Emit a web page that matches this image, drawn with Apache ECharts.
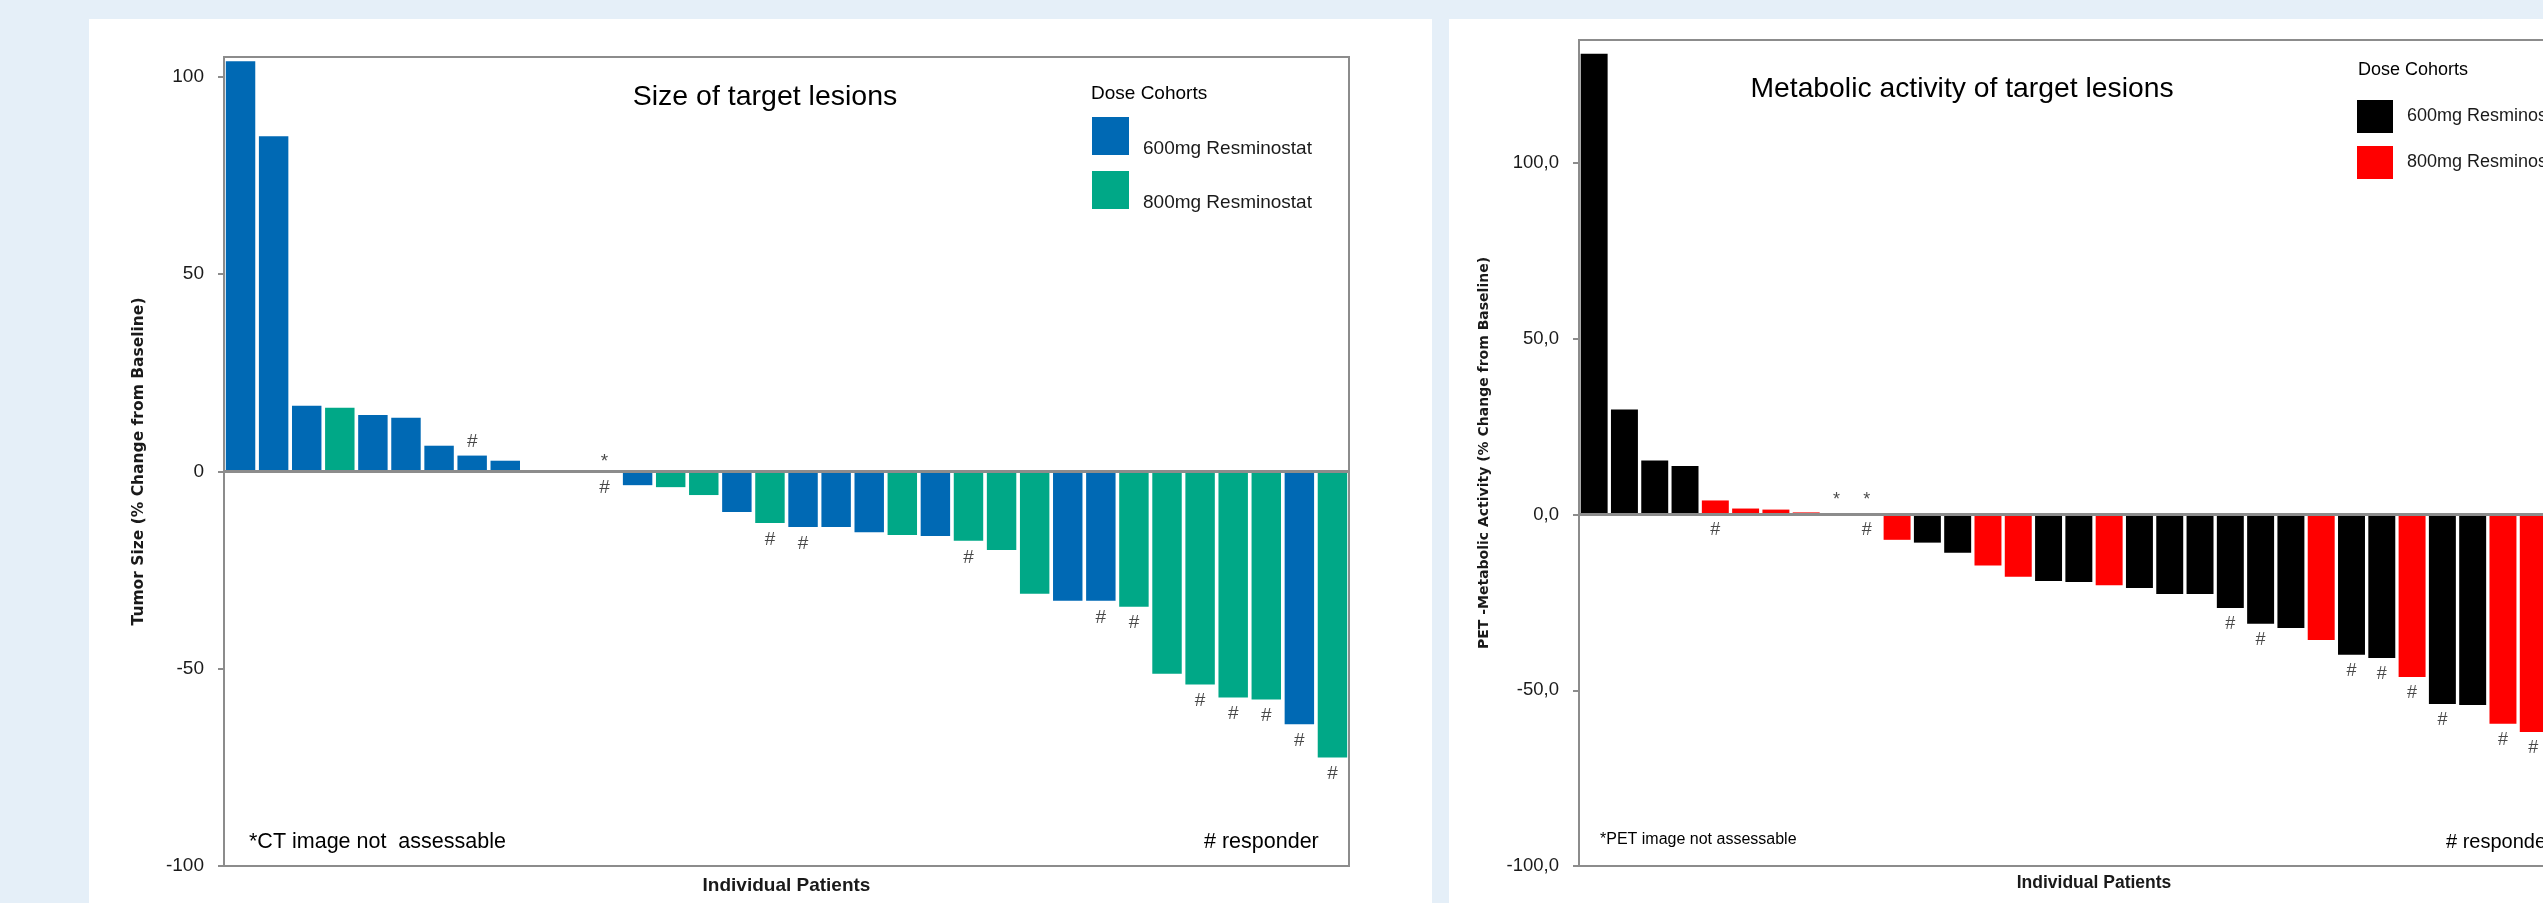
<!DOCTYPE html>
<html>
<head>
<meta charset="utf-8">
<script src="https://cdn.jsdelivr.net/npm/echarts@6/dist/echarts.min.js"></script>
<style>
  html, body { margin: 0; padding: 0; width: 2543px; height: 903px; overflow: hidden; background: #e5eff8; }
  .panel { position: absolute; top: 19px; height: 884px; background: #fff; }
  #ct { left: 89px; width: 1343px; }
  #pet { left: 1449px; width: 1094px; }
</style>
</head>
<body>
<div id="ct" class="panel"></div>
<div id="pet" class="panel"></div>
<script>
// patients, sorted by change from baseline
var patients = ['1','2','3','4','5','6','7','8','9','10','11','12','13','14','15','16','17',
                '18','19','20','21','22','23','24','25','26','27','28','29','30','31','32','33','34'];

// CT: tumor size, % change from baseline
var sizeChange = [103.9, 84.9, 16.6, 16.1, 14.3, 13.6, 6.5, 4.0, 2.7, 0, 0, null,
                  -3.5, -4.0, -6.0, -10.3, -13.1, -14.1, -14.1, -15.4, -16.1, -16.4, -17.6, -19.9,
                  -31.0, -32.8, -32.8, -34.3, -51.3, -54.0, -57.3, -57.8, -64.1, -72.5];
var sizeCohort = [600, 600, 600, 800, 600, 600, 600, 600, 600, 800, 800, null,
                  600, 800, 800, 600, 800, 600, 600, 600, 800, 600, 800, 800,
                  800, 600, 600, 800, 800, 800, 800, 800, 600, 800];
var sizeHashAbove = [7];
var sizeHashBelow = [11, 16, 17, 22, 26, 27, 29, 30, 31, 32, 33];
var sizeStar = [11];
var sizeTicks = [-100, -50, 0, 50, 100];

// PET: metabolic activity, % change from baseline (last two are off the picture)
var petChange = [131.1, 29.9, 15.4, 13.8, 4.0, 1.7, 1.4, 0.6, null, null,
                 -7.2, -8.0, -10.9, -14.5, -17.7, -18.9, -19.2, -20.1, -20.9, -22.6, -22.6,
                 -26.6, -31.1, -32.3, -35.7, -39.9, -40.8, -46.2, -53.9, -54.2, -59.5, -61.9, null, null];
var petCohort = [600, 600, 600, 600, 800, 800, 800, 800, null, null,
                 800, 600, 600, 800, 800, 600, 600, 800, 600, 600, 600,
                 600, 600, 600, 800, 600, 600, 800, 600, 600, 800, 800, null, null];
var petHashBelow = [4, 9, 21, 22, 25, 26, 27, 28, 30, 31];
var petStar = [8, 9];
var petTicks = [-100, -50, 0, 50, 100];

var FONT = 'Liberation Sans';
var INK = '#1a1a1a';
var FRAME = '#8c8c8c';

function pick(values, cohorts, dose) {
    return values.map(function (v, i) { return cohorts[i] === dose ? v : null; });
}

function barSeries(name, color, data, withZero) {
    var s = {
        name: name,
        type: 'bar',
        data: data,
        barGap: '-100%',
        barCategoryGap: '11%',
        itemStyle: { color: color },
        silent: true
    };
    if (withZero) {
        s.markLine = {
            silent: true,
            symbol: 'none',
            label: { show: false },
            lineStyle: { color: FRAME, width: 3, type: 'solid' },
            data: [{ yAxis: 0 }]
        };
    }
    return s;
}

function markSeries(idx, values, text, pos, dist, size, above) {
    return {
        type: 'scatter',
        symbolSize: 0,
        silent: true,
        z: 5,
        data: idx.map(function (i) {
            var v = values[i] || 0;
            return [i, above ? Math.max(v, 0) : Math.min(v, 0)];
        }),
        label: {
            show: true, position: pos, distance: dist, formatter: text,
            fontFamily: FONT, fontSize: size, color: INK
        }
    };
}

function txt(x, y, s, size, align) {
    var st = { text: s, fontFamily: FONT, fontSize: size, fill: '#000', align: align || 'left', verticalAlign: 'middle' };
    return { type: 'text', x: x, y: y, silent: true, style: st };
}

// ---- left: size of target lesions ----
var ctChart = echarts.init(document.getElementById('ct'));
ctChart.setOption({
    animation: false,
    backgroundColor: '#fff',
    textStyle: { fontFamily: FONT },
    grid: { left: 135, top: 38, width: 1125, height: 809, show: true, borderColor: FRAME, borderWidth: 2,
            backgroundColor: 'transparent', outerBoundsMode: 'none' },
    xAxis: {
        type: 'category', data: patients,
        axisLine: { show: false }, axisTick: { show: false }, axisLabel: { show: false },
        name: 'Individual Patients', nameLocation: 'middle', nameGap: 10,
        nameTextStyle: { fontFamily: FONT, fontWeight: 'bold', fontSize: 19, color: INK, verticalAlign: 'top' }
    },
    yAxis: {
        type: 'value', min: -100, max: 105, interval: 50,
        splitLine: { show: false },
        axisLine: { show: true, lineStyle: { color: FRAME, width: 2 } },
        axisTick: { show: true, length: 6, customValues: sizeTicks, lineStyle: { color: FRAME, width: 2 } },
        axisLabel: { customValues: sizeTicks, margin: 20, fontSize: 19, color: INK, fontFamily: FONT },
        name: 'Tumor Size (% Change from Baseline)', nameLocation: 'middle', nameRotate: 90, nameGap: 77,
        nameTextStyle: { fontFamily: 'DejaVu Sans', fontWeight: 'bold', fontSize: 15.5, color: INK }
    },
    legend: {
        orient: 'vertical', left: 1003, top: 91, padding: 0,
        itemWidth: 37, itemHeight: 38, itemGap: 2, icon: 'rect', selectedMode: false,
        data: ['600mg Resminostat', '800mg Resminostat'],
        // label sits a little below the swatch centre
        formatter: function (n) { return '\n' + n; },
        textStyle: { fontFamily: FONT, fontSize: 19, lineHeight: 26, color: INK, padding: [0, 0, 0, 9] }
    },
    graphic: [
        txt(676, 78.5, 'Size of target lesions', 28.5, 'center'),
        txt(1002, 74.3, 'Dose Cohorts', 19, 'left'),
        txt(160, 823, '*CT image not  assessable', 21.5, 'left'),
        txt(1115, 823, '# responder', 21.5, 'left')
    ],
    series: [
        barSeries('600mg Resminostat', '#0069b4', pick(sizeChange, sizeCohort, 600), true),
        barSeries('800mg Resminostat', '#00a887', pick(sizeChange, sizeCohort, 800), false),
        markSeries(sizeHashAbove, sizeChange, '#', 'top', 4, 19, true),
        markSeries(sizeStar, sizeChange, '*', 'top', 0, 19, true),
        markSeries(sizeHashBelow, sizeChange, '#', 'bottom', 7, 19, false)
    ]
});

// ---- right: metabolic activity of target lesions ----
var petChart = echarts.init(document.getElementById('pet'));
petChart.setOption({
    animation: false,
    backgroundColor: '#fff',
    textStyle: { fontFamily: FONT },
    grid: { left: 130, top: 21, width: 1030, height: 826, show: true, borderColor: FRAME, borderWidth: 2,
            backgroundColor: 'transparent', outerBoundsMode: 'none' },
    xAxis: {
        type: 'category', data: patients,
        axisLine: { show: false }, axisTick: { show: false }, axisLabel: { show: false },
        name: 'Individual Patients', nameLocation: 'middle', nameGap: 8,
        nameTextStyle: { fontFamily: FONT, fontWeight: 'bold', fontSize: 17.5, color: INK, verticalAlign: 'top' }
    },
    yAxis: {
        type: 'value', min: -100, max: 135, interval: 50,
        splitLine: { show: false },
        axisLine: { show: true, lineStyle: { color: FRAME, width: 2 } },
        axisTick: { show: true, length: 6, customValues: petTicks, lineStyle: { color: FRAME, width: 2 } },
        axisLabel: {
            customValues: petTicks, margin: 20, fontSize: 18.5, color: INK, fontFamily: FONT,
            formatter: function (v) { return v.toFixed(1).replace('.', ','); }
        },
        name: 'PET -Metabolic Activity (% Change from Baseline)', nameLocation: 'middle', nameRotate: 90, nameGap: 88,
        nameTextStyle: { fontFamily: 'DejaVu Sans', fontWeight: 'bold', fontSize: 14, color: INK }
    },
    legend: {
        orient: 'vertical', left: 908, top: 81, padding: 0,
        itemWidth: 36, itemHeight: 33, itemGap: 13, icon: 'rect', selectedMode: false,
        data: ['600mg Resminostat', '800mg Resminostat'],
        textStyle: { fontFamily: FONT, fontSize: 18, color: INK, padding: [0, 0, 0, 9] }
    },
    graphic: [
        txt(513, 70, 'Metabolic activity of target lesions', 28.3, 'center'),
        txt(909, 51.3, 'Dose Cohorts', 18, 'left'),
        txt(151, 821, '*PET image not assessable', 16, 'left'),
        txt(997, 823.5, '# responder', 20, 'left')
    ],
    series: [
        barSeries('600mg Resminostat', '#000000', pick(petChange, petCohort, 600), true),
        barSeries('800mg Resminostat', '#ff0000', pick(petChange, petCohort, 800), false),
        markSeries(petStar, petChange, '*', 'top', 5, 18, true),
        markSeries(petHashBelow, petChange, '#', 'bottom', 7, 18, false)
    ]
});
</script>
</body>
</html>
